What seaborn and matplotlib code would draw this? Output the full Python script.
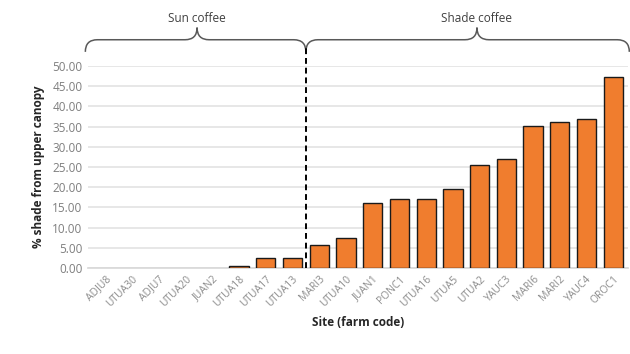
import numpy as np
import pandas as pd
import seaborn as sns
import matplotlib.pyplot as plt
from matplotlib.path import Path
from matplotlib.patches import PathPatch

# --- Data ---
SITES = ["ADJU8", "UTUA30", "ADJU7", "UTUA20", "JUAN2", "UTUA18", "UTUA17",
         "UTUA13", "MARI3", "UTUA10", "JUAN1", "PONC1", "UTUA16", "UTUA5",
         "UTUA2", "YAUC3", "MARI6", "MARI2", "YAUC4", "OROC1"]
SHADE = [0.0, 0.0, 0.0, 0.0, 0.0, 0.6, 2.4, 2.4, 5.6, 7.4, 16.0, 17.2, 17.2,
         19.6, 25.6, 26.9, 35.1, 36.2, 36.9, 47.2]
GROUPS = ["Sun coffee", "Shade coffee"]
N_SUN = 8

df = pd.DataFrame({"site": SITES, "shade": SHADE})

sns.set_theme(style="white")
plt.rcParams["font.family"] = ["Open Sans", "DejaVu Sans"]

fig = plt.figure(figsize=(6.3, 3.54), dpi=100)
ax = fig.add_axes([88 / 630, 1 - 268 / 354, 540 / 630, 202 / 354])

sns.barplot(data=df, x="site", y="shade", color="#F07D2E", width=0.72,
            edgecolor="#1a1a1a", linewidth=1.0, saturation=1, ax=ax, zorder=3)
# empty sites show no bar at all
for bar, v in zip(ax.patches, SHADE):
    if v == 0:
        bar.set_linewidth(0)

ax.set_ylim(0, 50)
ax.set_xlim(-0.65, len(SITES) - 0.45)
ax.set_yticks(np.arange(0, 51, 5))
ax.set_yticklabels([f"{v:.2f}" for v in np.arange(0, 51, 5)],
                   color="#7f7f7f", fontsize=8.5)
ax.yaxis.grid(True, color="#e3e3e3", linewidth=1.2, zorder=0)
ax.set_axisbelow(True)
for s in ["top", "right", "left"]:
    ax.spines[s].set_visible(False)
ax.spines["bottom"].set_color("#d9d9d9")
ax.tick_params(axis="both", length=0, pad=4)
plt.setp(ax.get_xticklabels(), rotation=45, ha="right", rotation_mode="anchor",
         color="#8c8c8c", fontsize=7.5)

ax.set_xlabel("Site (farm code)", fontsize=8.5, fontweight="bold",
              color="#262626", labelpad=5)
ax.set_ylabel("% shade from upper canopy", fontsize=8.5, fontweight="bold",
              color="#262626", labelpad=5)

# divider between sun and shade sites
split = N_SUN - 0.5
trans = ax.get_xaxis_transform()
ax.plot([split, split], [0, 1.09], transform=trans, color="black",
        linestyle=(0, (3, 2)), linewidth=1.4, clip_on=False, zorder=4)


def brace(x0, x1, xp, y_end=1.07, y_mid=1.13, y_peak=1.19, dx=0.45):
    verts = [(x0, y_end), (x0, y_mid), (x0 + dx, y_mid),
             (xp - dx, y_mid), (xp, y_mid), (xp, y_peak),
             (xp, y_mid), (xp + dx, y_mid),
             (x1 - dx, y_mid), (x1, y_mid), (x1, y_end)]
    codes = [Path.MOVETO, Path.CURVE3, Path.CURVE3,
             Path.LINETO, Path.CURVE3, Path.CURVE3,
             Path.CURVE3, Path.CURVE3,
             Path.LINETO, Path.CURVE3, Path.CURVE3]
    patch = PathPatch(Path(verts, codes), transform=trans, fill=False,
                      edgecolor="#595959", linewidth=1.1, clip_on=False)
    ax.add_patch(patch)


brace(-0.75, split, 3.43)
brace(split, len(SITES) - 0.4, 13.9)
ax.text(3.43, 1.205, GROUPS[0], transform=trans, ha="center", va="bottom",
        fontsize=8.5, color="#404040")
ax.text(13.9, 1.205, GROUPS[1], transform=trans, ha="center", va="bottom",
        fontsize=8.5, color="#404040")

fig.savefig("out.png", dpi=100)
